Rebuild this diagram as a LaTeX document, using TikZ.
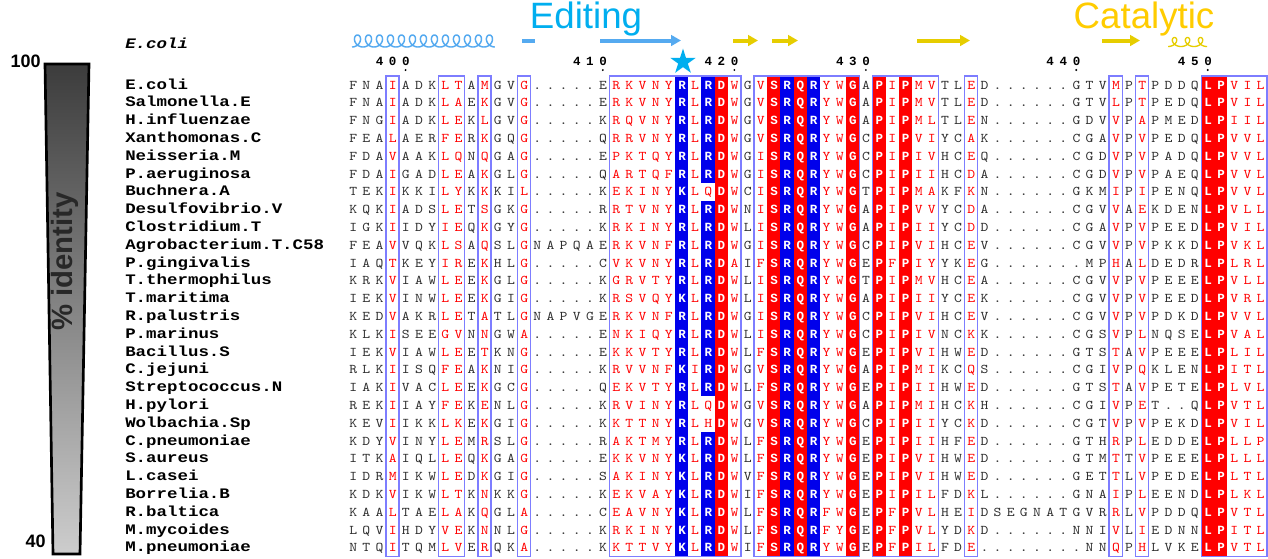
\documentclass[tikz,border=0pt]{standalone}
\usepackage{fontspec}
\usepackage{graphicx}
\usetikzlibrary{shapes.geometric,arrows.meta}
\newfontfamily\sansf{Liberation Sans}
\newfontfamily\monob{Liberation Mono}
\newfontfamily\namefont{Liberation Mono}[FakeStretch=1.2]

\definecolor{seqred}{RGB}{255,0,0}
\definecolor{bgred}{RGB}{255,0,0}
\definecolor{bgblue}{RGB}{0,0,235}
\definecolor{framecol}{RGB}{125,125,255}
\definecolor{ssblue}{RGB}{85,170,240}
\definecolor{ssyellow}{RGB}{230,205,0}
\definecolor{editcol}{RGB}{0,174,239}
\definecolor{catcol}{RGB}{255,204,0}
\definecolor{bartop}{RGB}{60,60,60}
\definecolor{barbot}{RGB}{205,205,205}
\definecolor{identcol}{RGB}{40,40,40}
\definecolor{seqblack}{RGB}{45,45,45}

% one alignment column is 13.15px wide (1px = 0.75pt)
\newdimen\cw \cw=9.8625pt
\newcount\colidx
\def\sfont{\ttfamily\fontsize{10pt}{10pt}\selectfont}
\def\wfont{\monob\bfseries\fontsize{9.4pt}{10pt}\selectfont}

% colour class of each column: k black, r red, w white on a filled band,
% s white on a band only where the residue is R
\def\setcls#1#2{\expandafter\gdef\csname cc@#1\endcsname{#2}}
\foreach \c in {4,8,9,11,14,21,22,23,24,25,27,30,32,37,38,42,44,45,48,59,61,68,69,70}{\setcls{\c}{r}}
\foreach \c in {26,29,33,34,35,36,39,41,43,66,67}{\setcls{\c}{w}}
\setcls{28}{s}

\def\seqchar#1{%
  \ifcsname cc@\the\colidx\endcsname
    \edef\cls{\csname cc@\the\colidx\endcsname}%
  \else\def\cls{k}\fi
  \if s\cls\if R#1\def\cls{w}\else\def\cls{r}\fi\fi
  \if -#1\def\cls{g}\fi
  \makebox[\cw]{%
    \if w\cls{\wfont\color{white}#1}%
    \else\if r\cls{\color{seqred}\scalebox{1.12}[1]{#1}}%
    \else\if g\cls{\color{seqblack}\scalebox{1.12}[1]{.}}%
    \else{\color{seqblack}\scalebox{1.12}[1]{#1}}\fi\fi\fi}%
}
\def\seqloop#1{\ifx#1\relax\else\advance\colidx by 1 \seqchar{#1}\expandafter\seqloop\fi}
\def\seqrow#1{\colidx=0 \seqloop#1\relax}

\def\rdloop#1{\ifx#1\relax\else\makebox[\cw]{#1}\expandafter\rdloop\fi}
\def\rulerdigits#1{\rdloop#1\relax}

\begin{document}
\begin{tikzpicture}[x=0.75pt,y=-0.75pt,
  framebox/.style={draw=framecol,line width=1pt},
  seqrowstyle/.style={anchor=base west,inner sep=0pt,font=\sfont},
  namestyle/.style={anchor=base west,inner sep=0pt,font=\namefont\bfseries\fontsize{10.9pt}{11pt}\selectfont},
  rulerstyle/.style={anchor=base west,inner sep=0pt,font=\monob\bfseries\fontsize{9.4pt}{10pt}\selectfont},
  ssarrow/.style={line width=3pt,-{Triangle[length=7.5pt,width=8pt]}},
  bignum/.style={font=\sansf\bfseries\fontsize{13.5pt}{14pt}\selectfont,inner sep=0pt},
  regionlabel/.style={font=\sansf\fontsize{27.5pt}{28pt}\selectfont,anchor=base,inner sep=0pt}]
\useasboundingbox (0,0) rectangle (1268,558);
\fill[white] (0,0) rectangle (1268,558);

% identity scale bar
\shade[top color=bartop,bottom color=barbot] (45,64) -- (89,64) -- (80,554) -- (53,554) -- cycle;
\draw[line width=2pt,line join=miter] (45,64) -- (89,64) -- (80,554) -- (53,554) -- cycle;
\node[bignum,anchor=east] (p100) at (41,61) {100};
\node[bignum,anchor=east] (p40) at (46,541.5) {40};
\node[rotate=90,font=\sansf\bfseries\fontsize{22pt}{22pt}\selectfont,text=identcol,inner sep=0pt] (ident) at (65,261.5) {\% identity};

% filled bands of strictly conserved columns
\foreach \c in {26,34,36}
  \fill[bgblue] ({353+(\c-1)*13.15-6.575},75.9) rectangle ({353+(\c-1)*13.15+6.575},556.5);
\foreach \c in {29,33,35,39,41,43}
  \fill[bgred] ({353+(\c-1)*13.15-6.575},75.9) rectangle ({353+(\c-1)*13.15+6.575},556.5);
\fill[bgred] ({353+65*13.15-6.575},75.9) rectangle ({353+66*13.15+6.575},556.5);
\foreach \ya/\yb in {75.9/182.7,200.5/396.3,431.9/556.5}
  \fill[bgblue] ({353+27*13.15-6.575},\ya) rectangle ({353+27*13.15+6.575},\yb);

% frames around similar columns
\foreach \a/\b in {4/4,8/9,11/11,14/14,21/30,32/39,41/45,48/48,59/59,61/61,66/70}
  \draw[framebox] ({353+(\a-1)*13.15-6.575},75.9) rectangle ({353+(\b-1)*13.15+6.575},556.5);

% sequence names and residues
\foreach \nm/\sq [count=\i] in {
E.coli/FNAIADKLTAMGVG-----ERKVNYRLRDWGVSRQRYWGAPIPMVTLED------GTVMPTPDDQLPVIL,
Salmonella.E/FNAIADKLAEKGVG-----ERKVNYRLRDWGVSRQRYWGAPIPMVTLED------GTVLPTPEDQLPVIL,
H.influenzae/FNGIADKLEKLGVG-----KRQVNYRLRDWGVSRQRYWGAPIPMLTLEN------GDVVPAPMEDLPIIL,
Xanthomonas.C/FEALAERFERKGQG-----QRRVNYRLRDWGVSRQRYWGCPIPVIYCAK------CGAVPVPEDQLPVVL,
Neisseria.M/FDAVAAKLQNQGAG-----EPKTQYRLRDWGISRQRYWGCPIPIVHCEQ------CGDVPVPADQLPVVL,
P.aeruginosa/FDAIGADLEAKGLG-----QARTQFRLRDWGISRQRYWGCPIPIIHCDA------CGDVPVPAEQLPVVL,
Buchnera.A/TEKIKKILYKKKIL-----KEKINYKLQDWCISRQRYWGTPIPMAKFKN------GKMIPIPENQLPVVL,
Desulfovibrio.V/KQKIADSLETSGKG-----RRTVNYRLRDWNISRQRYWGAPIPVVYCDA------CGVVAEKDENLPVLL,
Clostridium.T/IGKIIDYIEQKGYG-----KRKINYRLRDWLISRQRYWGAPIPIIYCDD------CGAVPVPEEDLPVIL,
Agrobacterium.T.C58/FEAVVQKLSAQSLGNAPQAERKVNFRLRDWGISRQRYWGCPIPVIHCEV------CGVVPVPKKDLPVKL,
P.gingivalis/IAQTKEYIREKHLG-----CVKVNYRLRDAIFSRQRYWGEPFPIYYKEG-------MPHALDEDRLPLRL,
T.thermophilus/KRKVIAWLEEKGLG-----KGRVTYRLRDWLISRQRYWGTPIPMVHCEA------CGVVPVPEEELPVLL,
T.maritima/IEKVINWLEEKGIG-----KRSVQYKLRDWLISRQRYWGAPIPIIYCEK------CGVVPVPEEDLPVRL,
R.palustris/KEDVAKRLETATLGNAPVGERKVNFRLRDWGISRQRYWGCPIPVIHCEV------CGVVPVPDKDLPVVL,
P.marinus/KLKISEEGVNNGWA-----ENKIQYRLRDWLISRQRYWGCPIPIVNCKK------CGSVPLNQSELPVAL,
Bacillus.S/IEKVIAWLEETKNG-----EKKVTYRLRDWLFSRQRYWGEPIPVIHWED------GTSTAVPEEELPLIL,
C.jejuni/RLKIISQFEAKNIG-----KRVVNFKIRDWGVSRQRYWGAPIPMIKCQS------CGIVPQKLENLPITL,
Streptococcus.N/IAKIVACLEEKGCG-----QEKVTYRLRDWLFSRQRYWGEPIPIIHWED------GTSTAVPETELPLVL,
H.pylori/REKIIAYFEKENLG-----KRVINYRLQDWGVSRQRYWGAPIPMIHCKH------CGIVPET--QLPVTL,
Wolbachia.Sp/KEVIIKKLKEKGIG-----KKTTNYRLHDWGVSRQRYWGCPIPIIYCKD------CGTVPVPEKDLPVIL,
C.pneumoniae/KDYVINYLEMRSLG-----RAKTMYRLRDWLFSRQRYWGEPIPIIHFED------GTHRPLEDDELPLLP,
S.aureus/ITKAIQLLEQKGAG-----EKKVNYKLRDWLFSRQRYWGEPIPVIHWED------GTMTTVPEEELPLLL,
L.casei/IDRMIKWLEDKGIG-----SAKINYKLRDWVFSRQRYWGEPIPVIHWED------GETTLVPEDELPLTL,
Borrelia.B/KDKVIKWLTKNKKG-----KEKVAYKLRDWIFSRQRYWGEPIPILFDKL------GNAIPLEENDLPLKL,
R.baltica/KAALTAELAKQGLA-----CEAVNYKLRDWLFSRQRFWGEPFPVLHEIDSEGNATGVRRLVPDDQLPVTL,
M.mycoides/LQVIHDYVEKNNLG-----KRKINYKLRDWLFSRQRFYGEPFPVLYDKD------NNIVLIEDNNLPITL,
M.pneumoniae/NTQITQMLVERQKA-----KKTTVYKLRDWIFSRQRYWGEPFPILFDE--------NNQPHLVKELPVTL}{
  \node[namestyle] (n\i) at (125,{89+(\i-1)*17.8}) {\nm};
  \node[seqrowstyle] (s\i) at (346.425,{89+(\i-1)*17.8}) {\expandafter\seqrow\expandafter{\sq}};
}

% residue numbering
\foreach \n/\c in {400/5,410/20,420/30,430/40,440/56,450/66}{
  \node[rulerstyle] (r\n) at ({353+(\c-3)*13.15-6.575},65) {\expandafter\rulerdigits\expandafter{\n}};
  \fill ({353+(\c-1)*13.15},70) circle (1.1);
}

% secondary structure of E. coli
\node[anchor=base west,inner sep=0pt,font=\namefont\bfseries\itshape\fontsize{10.9pt}{11pt}\selectfont] (sslabel) at (125,48) {E.coli};
\draw[ssblue,line width=1.1pt] plot[domain=0:81.68,samples=800,smooth,variable=\t]
  ({352+1.75*\t+5.5*sin(\t r)},{41+6*cos(\t r)});
\draw[ssblue,line width=3pt] (522,40.5) -- (535,40.5);
\draw[ssblue,ssarrow] (600,40.5) -- (681,40.5);
\draw[ssyellow,ssarrow] (733,40.5) -- (758,40.5);
\draw[ssyellow,ssarrow] (772,40.5) -- (798,40.5);
\draw[ssyellow,ssarrow] (917,40.5) -- (970,40.5);
\draw[ssyellow,ssarrow] (1102,40.5) -- (1140,40.5);
\draw[ssyellow,line width=1pt] plot[domain=0:18.85,samples=300,smooth,variable=\t]
  ({1168+2.07*\t+5*sin(\t r)},{42+4.5*cos(\t r)});

% region labels and the marked residue
\node[regionlabel,text=editcol] (edit) at (586,28) {Editing};
\node[regionlabel,text=catcol] (cat) at (1144,28.5) {Catalytic};
\node[star,star points=5,star point ratio=2.618,fill=editcol,minimum size=20pt,inner sep=0pt] (star) at (683,62) {};
\end{tikzpicture}
\end{document}
